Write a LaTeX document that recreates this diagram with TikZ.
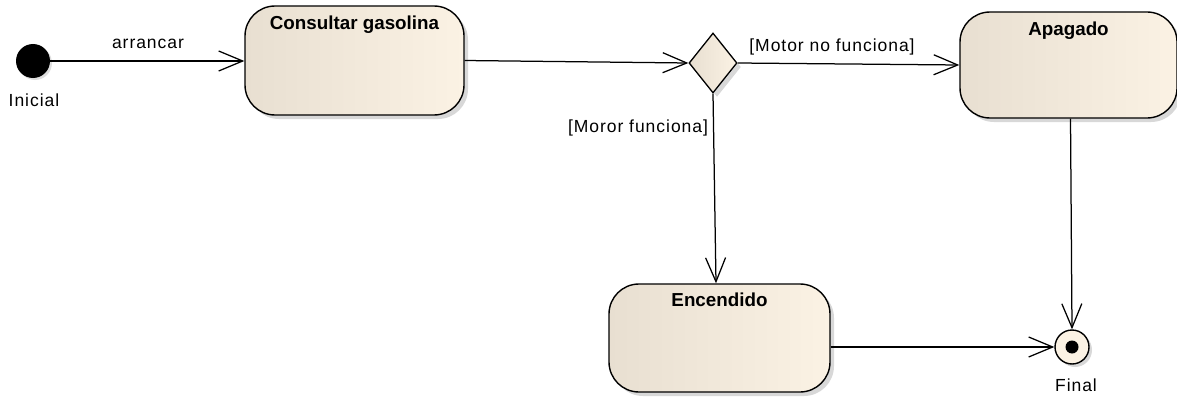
\documentclass[tikz,border=0pt]{standalone}
\usepackage{fontspec}
\setmainfont{Liberation Sans}
\newfontfamily\lblfont[LetterSpace=5.5]{Liberation Sans}
\usetikzlibrary{arrows.meta,shapes.geometric,shadows}
\definecolor{stateL}{HTML}{E8DFD1}
\definecolor{stateR}{HTML}{FBF2E4}
\tikzset{
  statebox/.style={draw=black, line width=1.4pt, rounded corners=30pt,
    left color=stateL, right color=stateR,
    drop shadow={shadow xshift=4pt, shadow yshift=-4pt, fill=black!30},
    inner sep=0pt},
  statetitle/.style={font=\bfseries\fontsize{18.8}{21}\selectfont, anchor=north, inner sep=0pt},
  lbl/.style={font=\lblfont\fontsize{17.5}{20}\selectfont, inner sep=0pt},
  trans/.style={line width=1.25pt, -{Straight Barb[length=24pt, width=20pt, line width=1.25pt]}},
}
\begin{document}
\begin{tikzpicture}[x=1pt, y=-1pt]
\useasboundingbox (0,0) rectangle (1177,396);

% initial and final pseudo-states
\node (ini) [circle, fill=black, minimum size=34pt, inner sep=0pt,
  drop shadow={shadow xshift=2pt, shadow yshift=-2pt, fill=black!25}] at (33,61) {};
\node[lbl] (iniL) at (34,100) {Inicial};

\node (fin) [circle, draw=black, line width=1.4pt, fill=stateR, minimum size=34pt, inner sep=0pt,
  drop shadow={shadow xshift=3pt, shadow yshift=-3pt, fill=black!30}] at (1072,347) {};
\node (finDot) [circle, fill=black, minimum size=13pt, inner sep=0pt] at (fin.center) {};
\node[lbl] (finL) at (1076,385) {Final};

% states
\node (cons) [statebox, minimum width=219pt, minimum height=109pt] at (354.5,60.5) {};
\node[statetitle] (consT) at ([yshift=-10pt]cons.north) {Consultar gasolina};

\node (apag) [statebox, minimum width=217pt, minimum height=106pt] at (1068.5,65) {};
\node[statetitle] (apagT) at ([yshift=-10pt]apag.north) {Apagado};

\node (enc) [statebox, minimum width=221pt, minimum height=108pt] at (719.5,338) {};
\node[statetitle] (encT) at ([yshift=-9pt]enc.north) {Encendido};

% decision
\node (dec) [diamond, draw=black, line width=1.3pt, left color=stateL, right color=stateR,
  minimum width=48pt, minimum height=60pt, inner sep=0pt,
  drop shadow={shadow xshift=4pt, shadow yshift=-4pt, fill=black!30}] at (713,63) {};

% transitions
\draw[trans] (ini.east) -- (cons.west |- ini.east);
\node[lbl] (arrL) at (148,44) {arrancar};

\draw[trans] (cons.east) -- (dec.west);

\draw[trans] (dec.east) -- (apag.west);
\node[lbl] (noL) at (832,47) {[Motor no funciona]};

\draw[trans] (dec.south) -- ([xshift=-3.5pt]enc.north);
\node[lbl] (siL) at (638,128) {[Moror funciona]};

\draw[trans] ([xshift=2pt]apag.south) -- (fin.north);

\draw[trans] (fin -| enc.east) -- (fin.west);
\end{tikzpicture}
\end{document}
